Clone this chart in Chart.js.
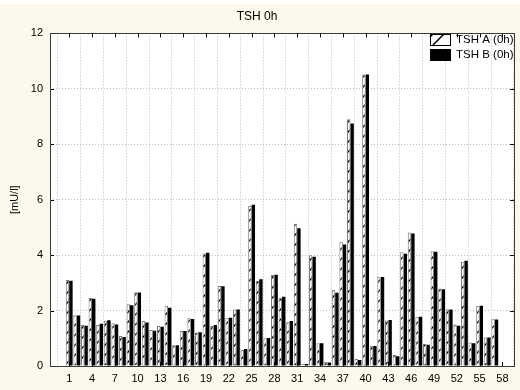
<!DOCTYPE html>
<html>
<head>
<meta charset="utf-8">
<script src="https://cdn.jsdelivr.net/npm/chart.js@4.4.0/dist/chart.umd.min.js"></script>
<style>
  html, body { margin: 0; padding: 0; background: #fdf8ec; }
  canvas { display: block; }
</style>
</head>
<body>
<canvas id="tsh-chart" width="520" height="390"></canvas>
<script>
// Case numbers (x positions) and the two assays
const cases = [1, 2, 3, 4, 5, 6, 7, 8, 9, 10, 11, 12, 13, 14, 15, 16, 17, 18, 19, 20,
  21, 22, 23, 24, 25, 26, 27, 28, 29, 30, 31, 32, 33, 34, 35, 36, 37, 38, 39, 40,
  41, 42, 43, 44, 45, 46, 47, 48, 49, 50, 51, 52, 53, 54, 55, 56, 57];

const tshA = [3.10, 1.83, 1.48, 2.45, 1.48, 1.63, 1.54, 1.08, 2.23, 2.66,
  1.62, 1.30, 1.44, 2.17, 0.75, 1.26, 1.72, 1.21, 4.06, 1.44,
  2.89, 1.74, 2.04, 0.58, 5.77, 3.07, 1.00, 3.28, 2.46, 1.58,
  5.13, 0.07, 4.00, 0.82, 0.15, 2.74, 4.48, 8.90, 0.25, 10.52,
  0.73, 3.22, 1.64, 0.40, 4.10, 4.82, 1.78, 0.79, 4.14, 2.80,
  2.05, 1.50, 3.76, 0.85, 2.17, 1.03, 1.69];

const tshB = [3.08, 1.82, 1.45, 2.43, 1.52, 1.65, 1.50, 1.05, 2.19, 2.65,
  1.57, 1.27, 1.42, 2.10, 0.75, 1.26, 1.70, 1.22, 4.09, 1.48,
  2.88, 1.74, 2.04, 0.61, 5.82, 3.13, 1.01, 3.29, 2.50, 1.62,
  4.97, 0.07, 3.94, 0.82, 0.13, 2.64, 4.38, 8.75, 0.22, 10.52,
  0.72, 3.21, 1.66, 0.35, 4.05, 4.78, 1.78, 0.77, 4.12, 2.77,
  2.04, 1.45, 3.80, 0.82, 2.17, 1.03, 1.68];

const xTickValues = [1, 4, 7, 10, 13, 16, 19, 22, 25, 28, 31, 34, 37, 40, 43, 46, 49, 52, 55, 58];
const yTickValues = [0, 2, 4, 6, 8, 10, 12];

Chart.defaults.font.family = "'Liberation Sans', Arial, sans-serif";
Chart.defaults.font.size = 11;
Chart.defaults.color = '#000';

// Diagonal hatch used for the TSH A bars
function makeHatch() {
  const c = document.createElement('canvas');
  c.width = 10;
  c.height = 10;
  const g = c.getContext('2d');
  g.fillStyle = '#fff';
  g.fillRect(0, 0, 10, 10);
  g.strokeStyle = '#000';
  g.lineWidth = 1.5;
  g.beginPath();
  g.moveTo(0, 10); g.lineTo(10, 0);
  g.moveTo(-2, 2); g.lineTo(2, -2);
  g.moveTo(8, 12); g.lineTo(12, 8);
  g.stroke();
  return g.createPattern(c, 'repeat');
}
const hatch = makeHatch();

// Background, frame, inner tick marks and the legend inside the plot
const framePlugin = {
  id: 'frame',
  beforeDraw(chart) {
    const { ctx, chartArea: a } = chart;
    ctx.save();
    ctx.fillStyle = '#fdf8ec';
    ctx.fillRect(0, 0, chart.width, chart.height);
    ctx.fillStyle = '#fff';
    ctx.fillRect(0, 0, chart.width, 4);
    ctx.fillRect(a.left, a.top, a.right - a.left, a.bottom - a.top);
    ctx.restore();
  },
  afterDraw(chart) {
    const { ctx, chartArea: a, scales } = chart;
    ctx.save();
    ctx.strokeStyle = '#000';
    ctx.lineWidth = 1;
    ctx.beginPath();
    xTickValues.forEach(v => {
      const px = Math.round(scales.x.getPixelForValue(v)) + 0.5;
      ctx.moveTo(px, a.top); ctx.lineTo(px, a.top + 4);
      ctx.moveTo(px, a.bottom); ctx.lineTo(px, a.bottom - 4);
    });
    yTickValues.forEach(v => {
      const py = Math.round(scales.y.getPixelForValue(v)) + 0.5;
      ctx.moveTo(a.left, py); ctx.lineTo(a.left + 4, py);
      ctx.moveTo(a.right, py); ctx.lineTo(a.right - 4, py);
    });
    ctx.stroke();
    ctx.strokeStyle = '#3a3a3a';
    ctx.strokeRect(Math.round(a.left) + 0.5, Math.round(a.top) + 0.5,
      Math.round(a.right - a.left), Math.round(a.bottom - a.top));

    // legend
    const ds = chart.data.datasets;
    const bx = 430, by = [34, 49];
    ds.forEach((d, i) => {
      const y = by[i];
      if (i === 0) {
        ctx.fillStyle = '#fff';
        ctx.fillRect(bx, y, 20, 11);
        ctx.beginPath();
        ctx.moveTo(bx + 3, y + 11); ctx.lineTo(bx + 14, y);
        ctx.moveTo(bx, y + 3); ctx.lineTo(bx + 3, y);
        ctx.lineWidth = 1.5;
        ctx.strokeStyle = '#000';
        ctx.stroke();
        ctx.lineWidth = 1;
        ctx.strokeRect(bx + 0.5, y + 0.5, 20, 11);
      } else {
        ctx.fillStyle = '#000';
        ctx.fillRect(bx, y, 21, 12);
      }
      ctx.fillStyle = '#000';
      ctx.font = "11.5px 'Liberation Sans', Arial, sans-serif";
      ctx.textBaseline = 'middle';
      ctx.textAlign = 'left';
      ctx.fillText(d.label, 456, y + 6);
    });
    ctx.restore();
  }
};

new Chart(document.getElementById('tsh-chart'), {
  type: 'bar',
  data: {
    datasets: [
      {
        label: 'TSH A (0h)',
        data: cases.map((c, i) => ({ x: c, y: tshA[i] })),
        backgroundColor: hatch,
        borderColor: '#7a7a7a',
        borderWidth: 1,
        categoryPercentage: 0.9,
        barPercentage: 1.0,
      },
      {
        label: 'TSH B (0h)',
        data: cases.map((c, i) => ({ x: c, y: tshB[i] })),
        backgroundColor: '#000',
        borderColor: '#000',
        borderWidth: 0,
        categoryPercentage: 0.9,
        barPercentage: 1.0,
      },
    ],
  },
  options: {
    responsive: false,
    animation: false,
    layout: { padding: { left: 0, right: 6, top: 0, bottom: 0 } },
    plugins: {
      legend: { display: false },
      tooltip: { enabled: false },
      title: {
        display: true,
        text: 'TSH 0h',
        font: { size: 12, weight: 'normal' },
        padding: { top: 9, bottom: 10 },
      },
    },
    scales: {
      x: {
        type: 'linear',
        min: 0,
        max: 58,
        afterBuildTicks: axis => { axis.ticks = xTickValues.map(v => ({ value: v })); },
        afterFit: axis => { axis.height = 24; },
        ticks: { padding: 6, autoSkip: false, maxRotation: 0 },
        grid: { color: '#bdbdbd', drawTicks: false },
        border: { display: false, dash: [1, 2] },
      },
      y: {
        min: 0,
        max: 12,
        afterBuildTicks: axis => { axis.ticks = yTickValues.map(v => ({ value: v })); },
        afterFit: axis => { axis.width = 50; },
        ticks: { padding: 7 },
        grid: { color: '#bdbdbd', drawTicks: false },
        border: { display: false, dash: [1, 2] },
        title: {
          display: true,
          text: '[mU/l]',
          font: { size: 11 },
          padding: { top: 8, bottom: 0 },
        },
      },
    },
  },
  plugins: [framePlugin],
});
</script>
</body>
</html>
